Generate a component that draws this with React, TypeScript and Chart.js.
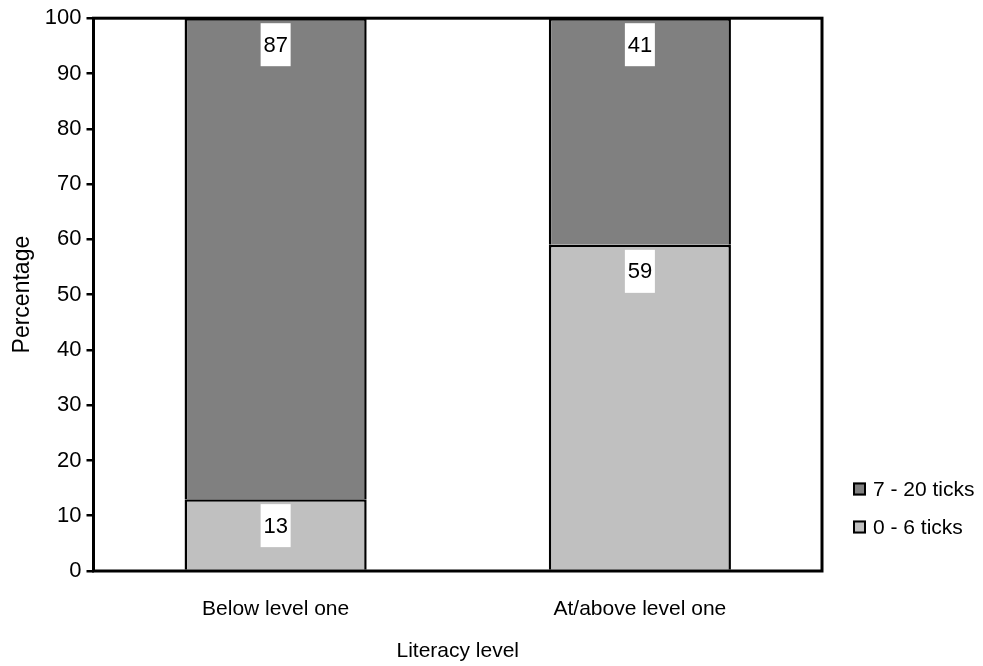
import React, { useEffect, useRef } from "react";
import { Chart, registerables } from "chart.js";

Chart.register(...registerables);

// Literacy level categories and percentage shares of tick counts
const categories = ["Below level one", "At/above level one"];
const lowTicks = [13, 59]; // 0 - 6 ticks
const highTicks = [87, 41]; // 7 - 20 ticks
const seriesLabels = ["0 - 6 ticks", "7 - 20 ticks"];
const seriesColors = ["#c0c0c0", "#808080"];

const FONT = "'Liberation Sans', Arial, sans-serif";

// White boxed value label near the top of each bar segment
const valueLabels = {
  id: "valueLabels",
  afterDatasetsDraw(chart: any) {
    const ctx = chart.ctx;
    ctx.save();
    ctx.font = `22px ${FONT}`;
    ctx.textAlign = "center";
    ctx.textBaseline = "middle";
    chart.data.datasets.forEach((ds: any, di: number) => {
      const meta = chart.getDatasetMeta(di);
      meta.data.forEach((el: any, i: number) => {
        const text = String(ds.data[i]);
        const w = 30;
        const h = 43;
        const top = el.y + 5;
        ctx.fillStyle = "#ffffff";
        ctx.fillRect(el.x - w / 2, top, w, h);
        ctx.fillStyle = "#000000";
        ctx.fillText(text, el.x, top + h / 2 + 1);
      });
    });
    ctx.restore();
  },
};

// Black frame around the plot area
const plotFrame = {
  id: "plotFrame",
  afterDraw(chart: any) {
    const { left, top, right, bottom } = chart.chartArea;
    const ctx = chart.ctx;
    ctx.save();
    ctx.strokeStyle = "#000000";
    ctx.lineWidth = 3;
    ctx.strokeRect(left, top, right - left, bottom - top);
    ctx.restore();
  },
};

// Legend on the right, top series listed first
const sideLegend = {
  id: "sideLegend",
  afterDraw(chart: any) {
    const ctx = chart.ctx;
    const x = chart.chartArea.right + 31;
    const rows = [489, 527];
    const order = [1, 0];
    ctx.save();
    ctx.font = `21px ${FONT}`;
    ctx.textAlign = "left";
    ctx.textBaseline = "middle";
    order.forEach((di, r) => {
      const ds = chart.data.datasets[di];
      const y = rows[r];
      ctx.fillStyle = ds.backgroundColor;
      ctx.fillRect(x, y - 6.5, 13, 13);
      ctx.strokeStyle = "#000000";
      ctx.lineWidth = 2;
      ctx.strokeRect(x + 1, y - 5.5, 11, 11);
      ctx.fillStyle = "#000000";
      ctx.fillText(ds.label, x + 20, y + 1);
    });
    ctx.restore();
  },
};

export default function App() {
  const canvasRef = useRef<HTMLCanvasElement | null>(null);

  useEffect(() => {
    if (!canvasRef.current) return;
    const chart = new Chart(canvasRef.current, {
      type: "bar",
      data: {
        labels: categories,
        datasets: [
          {
            label: seriesLabels[0],
            data: lowTicks,
            backgroundColor: seriesColors[0],
            borderColor: "#000000",
            borderWidth: 2.5,
          },
          {
            label: seriesLabels[1],
            data: highTicks,
            backgroundColor: seriesColors[1],
            borderColor: "#000000",
            borderWidth: 2.5,
          },
        ],
      },
      options: {
        animation: false,
        responsive: true,
        maintainAspectRatio: false,
        datasets: { bar: { categoryPercentage: 1, barPercentage: 0.5 } },
        layout: { padding: { top: 17.5, right: 161, bottom: 0, left: 0 } },
        plugins: {
          legend: { display: false },
          tooltip: { enabled: false },
        },
        scales: {
          x: {
            stacked: true,
            grid: { display: false },
            border: { display: false },
            ticks: {
              color: "#000000",
              font: { family: FONT, size: 21 },
              padding: 18,
            },
            title: {
              display: true,
              text: "Literacy level",
              color: "#000000",
              font: { family: FONT, size: 21 },
              padding: { top: 0, bottom: 2 },
            },
            afterFit(scale: any) {
              scale.height = 95;
            },
          },
          y: {
            stacked: true,
            min: 0,
            max: 100,
            ticks: {
              stepSize: 10,
              color: "#000000",
              font: { family: FONT, size: 22 },
              padding: 5,
            },
            grid: {
              drawOnChartArea: false,
              drawTicks: true,
              tickLength: 7,
              color: "#000000",
              lineWidth: 2.5,
            },
            border: { display: false },
            title: {
              display: true,
              text: "Percentage",
              color: "#000000",
              font: { family: FONT, size: 23 },
              padding: { top: 9, bottom: 0 },
            },
            afterFit(scale: any) {
              scale.width = 93.5;
            },
          },
        },
      },
      plugins: [valueLabels, plotFrame, sideLegend],
    });
    return () => chart.destroy();
  }, []);

  return (
    <div style={{ position: "fixed", left: 0, top: 0, width: 983, height: 666, background: "#ffffff" }}>
      <canvas ref={canvasRef} />
    </div>
  );
}
